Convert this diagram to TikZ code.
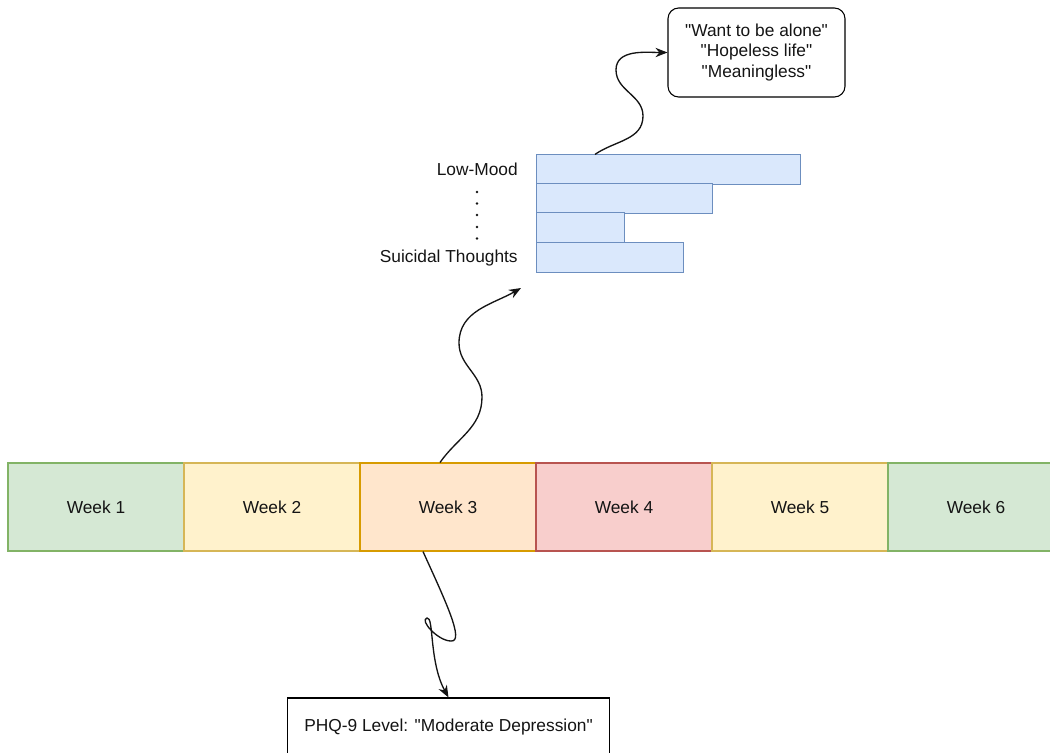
\documentclass[tikz,border=0pt]{standalone}
\usepackage{fontspec}
\setmainfont{Liberation Sans}
\usetikzlibrary{positioning,arrows.meta}

\definecolor{gfill}{HTML}{D5E8D4}\definecolor{gline}{HTML}{82B366}
\definecolor{yfill}{HTML}{FFF2CC}\definecolor{yline}{HTML}{D6B656}
\definecolor{ofill}{HTML}{FFE6CC}\definecolor{oline}{HTML}{D79B00}
\definecolor{rfill}{HTML}{F8CECC}\definecolor{rline}{HTML}{B85450}
\definecolor{barfill}{HTML}{DAE8FC}\definecolor{barline}{HTML}{6C8EBF}
\definecolor{ink}{HTML}{141414}
\newcommand\qq{\textquotedbl}

\begin{document}
\begin{tikzpicture}[x=0.75pt, y=0.75pt, line width=0.8pt, text=ink,
        font=\fontsize{13}{15.5}\selectfont,
        >={Stealth[length=9pt,width=7pt]},
        week/.style = {draw, minimum width=132pt, minimum height=66pt, inner sep=0pt},
        bar/.style = {draw=barline, fill=barfill, minimum height=22pt, inner sep=0pt, anchor=west},
        note/.style = {draw, rounded corners=8pt, align=center, minimum width=132.75pt, minimum height=66.75pt},
        wave/.style = {->, line width=1pt, ink}]
    \useasboundingbox (0,0) rectangle (1050,-753);

    % weeks
    \node[week, fill=gfill, draw=gline] (w1) at (96,-507) {Week 1};
    \node[week, fill=yfill, draw=yline] (w2) at (272,-507) {Week 2};
    \node[week, fill=ofill, draw=oline] (w3) at (448,-507) {Week 3};
    \node[week, fill=rfill, draw=rline] (w4) at (624,-507) {Week 4};
    \node[week, fill=yfill, draw=yline] (w5) at (800,-507) {Week 5};
    \node[week, fill=gfill, draw=gline] (w6) at (976,-507) {Week 6};

    % symptom bars
    \node[bar, minimum width=198pt] (bar1) at (536,-169.6) {};
    \node[bar, minimum width=132pt] (bar2) at (536,-198.6) {};
    \node[bar, minimum width=66pt] (bar3) at (536,-227.6) {};
    \node[bar, minimum width=110.25pt] (bar4) at (536,-257.6) {};
    \node (lowmood) [left=10pt of bar1] {Low-Mood};
    \node (suicidal) [left=10pt of bar4] {Suicidal Thoughts};
    \foreach \y in {192,203.5,215,227,238.5}
        \fill[ink] (477,-\y) circle (1.1pt);

    \node[note] (note) at (756.5,-52.5) {\qq Want to be alone\qq\\\qq Hopeless life\qq\\\qq Meaningless\qq};
    \node[draw, minimum width=242pt, minimum height=43.5pt] (phq) at (448.5,-727) {PHQ-9 Level: \qq Moderate Depression\qq};

    \coordinate (tip) at (521,-288);

    \draw[wave] ([xshift=-6pt]w3.north) to[out=55,in=-90] (482,-397)
        to[out=90,in=-90] (459,-343) to[out=90,in=-150] (tip);
    \draw[wave] ([xshift=44.25pt]bar1.north west) to[out=35,in=-90] (643,-116)
        to[out=90,in=-90] (616,-70) to[out=90,in=180] (note.west);
    \draw[wave] ([xshift=-18.75pt]w3.south) .. controls (445,-600) and (465,-642) .. (451,-641)
        .. controls (438,-641) and (419,-620) .. (427,-618)
        .. controls (434,-616) and (429,-662) .. (phq.north);
\end{tikzpicture}
\end{document}
